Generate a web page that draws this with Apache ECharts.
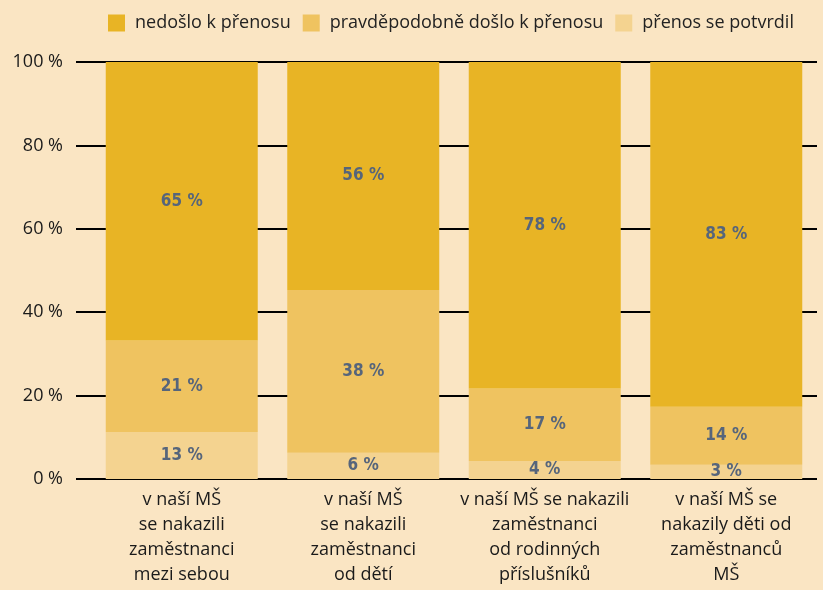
<!DOCTYPE html>
<html>
<head>
<meta charset="utf-8">
<script src="https://cdn.jsdelivr.net/npm/echarts@6/dist/echarts.min.js"></script>
<style>
  html, body { margin: 0; padding: 0; background: #fae5c3; }
  #chart { width: 823px; height: 590px; }
</style>
</head>
<body>
<div id="chart"></div>
<script>
// categories (line breaks as in the picture)
const categories = [
  'v naší MŠ\nse nakazili\nzaměstnanci\nmezi sebou',
  'v naší MŠ\nse nakazili\nzaměstnanci\nod dětí',
  'v naší MŠ se nakazili\nzaměstnanci\nod rodinných\npříslušníků',
  'v naší MŠ se\nnakazily děti od\nzaměstnanců\nMŠ'
]
const seriesNames = ['nedošlo k přenosu', 'pravděpodobně došlo k přenosu', 'přenos se potvrdil']

// drawn segment heights (% of bar)
const confirmed = [11.3, 6.3, 4.3, 3.4]
const probable = [21.9, 39.0, 17.4, 13.9]
const none = [66.8, 54.7, 78.3, 82.7]

// printed labels
const confirmedLabels = [13, 6, 4, 3]
const probableLabels = [21, 38, 17, 14]
const noneLabels = [65, 56, 78, 83]

const yTicks = [0, 20, 40, 60, 80, 100]

const colors = {
  none: '#e8b425',
  probable: '#efc360',
  confirmed: '#f4d390'
}

const makeSeries = (name, values, labels, color) => ({
  name: name,
  type: 'bar',
  stack: 'total',
  barWidth: 152,
  itemStyle: { color: color },
  label: {
    show: true,
    position: 'inside',
    color: '#56657b',
    fontWeight: 'bold',
    fontSize: 17,
    fontFamily: 'DejaVu Sans Condensed',
    formatter: (p) => labels[p.dataIndex] + ' %'
  },
  emphasis: { disabled: true },
  data: values
})

const chart = echarts.init(document.getElementById('chart'))
chart.setOption({
  backgroundColor: '#fae5c3',
  animation: false,
  textStyle: { fontFamily: 'Open Sans' },
  legend: {
    top: 14,
    left: 108,
    padding: 0,
    itemWidth: 17,
    itemHeight: 17,
    itemGap: 12,
    icon: 'rect',
    data: seriesNames,
    textStyle: { fontSize: 18, color: '#222', padding: [0, 0, 0, 5] }
  },
  grid: {
    left: 91,
    right: 6,
    top: 62,
    bottom: 111
  },
  xAxis: {
    type: 'category',
    data: categories,
    axisLine: { show: false },
    axisTick: { show: false },
    axisLabel: {
      margin: 8,
      fontSize: 18,
      lineHeight: 25,
      color: '#1a1a1a',
      interval: 0
    }
  },
  yAxis: {
    type: 'value',
    min: 0,
    max: 100,
    interval: 20,
    axisLine: { show: false },
    axisTick: { show: true, length: 15, lineStyle: { color: '#000', width: 2 } },
    splitLine: { show: true, lineStyle: { color: '#000', width: 2 } },
    axisLabel: {
      margin: 28,
      fontSize: 18,
      color: '#1a1a1a',
      formatter: (v) => yTicks.includes(v) ? v + ' %' : ''
    }
  },
  series: [
    makeSeries(seriesNames[2], confirmed, confirmedLabels, colors.confirmed),
    makeSeries(seriesNames[1], probable, probableLabels, colors.probable),
    makeSeries(seriesNames[0], none, noneLabels, colors.none)
  ]
})
</script>
</body>
</html>
